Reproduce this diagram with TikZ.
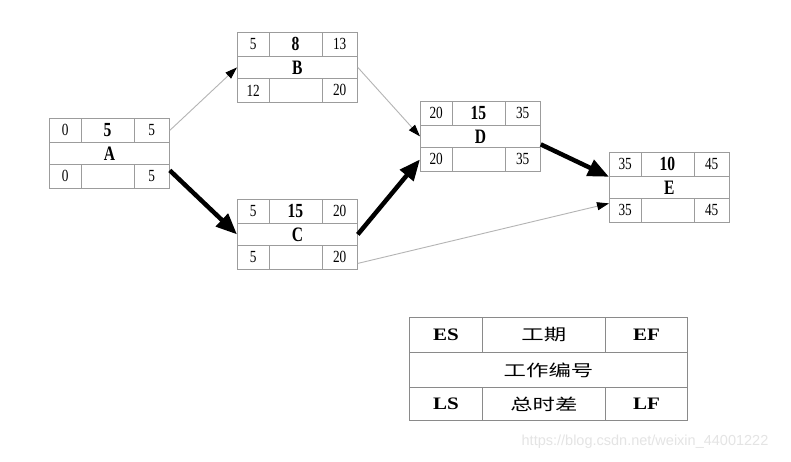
\documentclass[tikz,border=0pt]{standalone}
\usepackage{fontspec}
\setmainfont{Liberation Serif}
\newfontfamily\cjkfont{Noto Sans CJK SC}
\newfontfamily\wmfont{Liberation Sans}
\usetikzlibrary{arrows.meta}
\definecolor{boxline}{HTML}{9C9C9C}
\definecolor{legline}{HTML}{8A8A8A}
\definecolor{thinline}{HTML}{B4B4B4}
\definecolor{wmgray}{HTML}{E4E4E4}
\newcommand\numtxt[1]{{\fontsize{17}{17}\selectfont\scalebox{0.78}[1]{#1}}}
\newcommand\durtxt[1]{{\fontsize{20}{20}\selectfont\bfseries\scalebox{0.78}[1]{#1}}}
\newcommand\labtxt[1]{{\fontsize{20.5}{20.5}\selectfont\bfseries\scalebox{0.76}[1]{#1}}}
\newcommand\legtxt[1]{{\fontsize{17.5}{17.5}\selectfont\bfseries\scalebox{1.2}[1]{#1}}}
\newcommand\legcjk[1]{{\cjkfont\fontsize{16}{16}\selectfont\scalebox{1.4}[1]{#1}}}
\tikzset{
  cell/.style={draw=boxline, line width=0.8pt, inner sep=0pt, anchor=north west},
  legcell/.style={draw=legline, line width=1pt, inner sep=0pt, anchor=north west},
  thinarrow/.style={draw=thinline, line width=0.9pt, -{Triangle[length=12pt,width=8pt,fill=black,color=black]}},
  thickarrow/.style={draw=black, line width=4.5pt, -{Triangle[length=21pt,width=17pt]}},
}
\newcommand{\actbox}[9]{%
  \begin{scope}[shift={(#2,#3)}]
    \node[cell, minimum width=31.5pt, minimum height=24pt] (#1-es) at (0,0) {\numtxt{#4}};
    \node[cell, minimum width=53pt, minimum height=24pt] (#1-d) at (31.5,0) {\durtxt{#5}};
    \node[cell, minimum width=35.5pt, minimum height=24pt] (#1-ef) at (84.5,0) {\numtxt{#6}};
    \node[cell, minimum width=120pt, minimum height=22pt] (#1-name) at (0,24) {\labtxt{#7}};
    \node[cell, minimum width=31.5pt, minimum height=24pt] (#1-ls) at (0,46) {\numtxt{#8}};
    \node[cell, minimum width=53pt, minimum height=24pt] (#1-tf) at (31.5,46) {};
    \node[cell, minimum width=35.5pt, minimum height=24pt] (#1-lf) at (84.5,46) {\numtxt{#9}};
  \end{scope}}
\begin{document}
\begin{tikzpicture}[x=1pt,y=-1pt]
  \fill[white] (0,0) rectangle (791,461);
  \useasboundingbox (0,0) rectangle (791,461);
  \actbox{A}{49}{118}{0}{5}{5}{A}{0}{5}
  \actbox{B}{237}{32}{5}{8}{13}{B}{12}{20}
  \actbox{C}{237}{199}{5}{15}{20}{C}{5}{20}
  \actbox{D}{420}{101}{20}{15}{35}{D}{20}{35}
  \actbox{E}{609}{152}{35}{10}{45}{E}{35}{45}
  % legend
  \node[legcell, minimum width=72.7pt, minimum height=35pt] (L-es) at (409,317) {\legtxt{ES}};
  \node[legcell, minimum width=123.3pt, minimum height=35pt] (L-d) at (481.7,317) {\legcjk{工期}};
  \node[legcell, minimum width=82pt, minimum height=35pt] (L-ef) at (605,317) {\legtxt{EF}};
  \node[legcell, minimum width=278pt, minimum height=35pt] (L-name) at (409,352) {\legcjk{工作编号}};
  \node[legcell, minimum width=72.7pt, minimum height=33pt] (L-ls) at (409,387) {\legtxt{LS}};
  \node[legcell, minimum width=123.3pt, minimum height=33pt] (L-tf) at (481.7,387) {\legcjk{总时差}};
  \node[legcell, minimum width=82pt, minimum height=33pt] (L-lf) at (605,387) {\legtxt{LF}};
  % arrows
  \draw[thinarrow] (A-ef.east) -- (B-name.west);
  \draw[thickarrow] ([yshift=6pt]A-lf.east) -- (C-name.west);
  \draw[thinarrow] (B-name.east) -- (D-name.west);
  \draw[thickarrow] (C-name.east) -- (D-ls.west);
  \draw[thickarrow] ([yshift=-8pt]D-name.east) -- (E-es.south west);
  \draw[thinarrow] ([yshift=-6pt]C-lf.east) -- ([yshift=7pt]E-ls.west);
  % watermark
  \node[text=wmgray, font=\wmfont\fontsize{14.5}{14.5}\selectfont, inner sep=0pt] (wm) at (645,442) {https://blog.csdn.net/weixin\_44001222};
\end{tikzpicture}
\end{document}
